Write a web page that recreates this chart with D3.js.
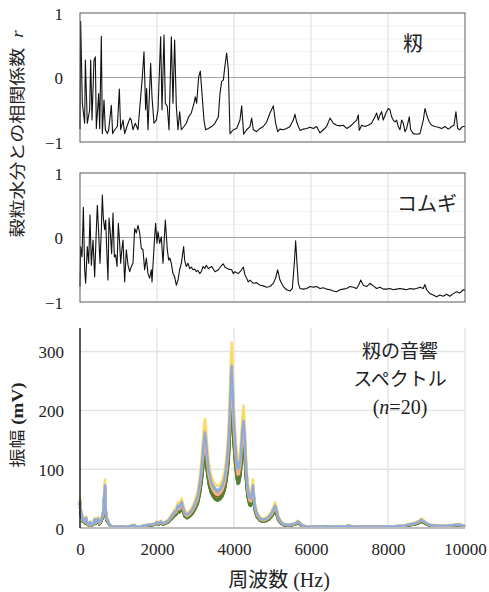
<!DOCTYPE html>
<html>
<head>
<meta charset="utf-8">
<script src="https://cdn.jsdelivr.net/npm/d3@7"></script>
<style>
  html, body { margin: 0; padding: 0; background: #fff; }
  svg { display: block; }
  text, tspan { font-family: "Liberation Serif", "Tinos", "Times New Roman", "DejaVu Serif", "Noto Serif", serif; fill: #222; }
  .jp { font-family: "Noto Sans CJK JP", "Noto Sans CJK SC", sans-serif; }
</style>
</head>
<body>
<svg id="chart" width="489" height="592"></svg>
<script>
const SERIF = "'Liberation Serif', 'Tinos', 'Times New Roman', 'DejaVu Serif', 'Noto Serif', serif";

// Frequency axis ticks (Hz) and value ticks
const freqTicks = [0, 2000, 4000, 6000, 8000, 10000];
const corrTicks = [-1, 0, 1];
const corrMinor = [-0.8, -0.6, -0.4, -0.2, 0.2, 0.4, 0.6, 0.8];
const ampTicks = [0, 100, 200, 300];

// Correlation with grain moisture, paddy rice: [frequency Hz, r]
const riceCorr = [
  [0,-0.80],[17,0.87],[60,-0.40],[121,-0.71],[139,0.27],[190,-0.71],[251,-0.50],[277,0.27],[312,-0.66],
  [364,0.27],[398,0.32],[424,-0.79],[485,-0.25],[511,-0.79],[554,0.64],[580,-0.87],[623,-0.35],
  [658,-0.81],[710,-0.87],[745,-0.81],[814,-0.43],[848,-0.87],[900,-0.81],[970,-0.76],[1022,-0.18],
  [1056,-0.81],[1117,-0.66],[1160,-0.87],[1229,-0.74],[1299,-0.63],[1333,-0.66],[1376,-0.81],
  [1437,-0.71],[1506,-0.81],[1576,-0.30],[1619,0.01],[1662,0.40],[1705,-0.50],[1731,-0.17],
  [1766,-0.81],[1835,0.22],[1870,-0.30],[1922,-0.71],[1982,-0.66],[2026,-0.50],[2095,0.63],
  [2130,-0.50],[2182,0.66],[2216,-0.40],[2268,-0.45],[2312,-0.81],[2372,0.63],[2415,-0.40],
  [2458,0.58],[2502,-0.45],[2545,-0.81],[2588,-0.53],[2632,-0.81],[2701,-0.76],[2762,-0.71],
  [2822,-0.61],[2891,-0.55],[2961,-0.40],[2995,-0.30],[3030,-0.40],[3082,0.01],[3125,0.10],
  [3169,-0.25],[3220,-0.66],[3264,-0.81],[3333,-0.79],[3420,-0.76],[3506,-0.71],[3593,-0.61],
  [3636,-0.25],[3679,-0.06],[3723,-0.04],[3766,0.19],[3809,0.38],[3853,0.12],[3896,-0.87],
  [3982,-0.81],[4069,-0.79],[4155,-0.66],[4199,-0.44],[4251,-0.88],[4329,-0.81],[4415,-0.76],
  [4458,-0.63],[4502,-0.81],[4588,-0.84],[4675,-0.79],[4761,-0.76],[4848,-0.69],[4935,-0.55],
  [5021,-0.44],[5082,-0.71],[5134,-0.84],[5194,-0.80],[5281,-0.81],[5367,-0.79],[5454,-0.76],
  [5540,-0.66],[5584,-0.57],[5627,-0.69],[5714,-0.82],[5800,-0.80],[5887,-0.79],[5974,-0.77],
  [6060,-0.79],[6147,-0.76],[6233,-0.86],[6320,-0.81],[6406,-0.76],[6494,-0.63],[6580,-0.71],
  [6666,-0.74],[6753,-0.75],[6839,-0.74],[6926,-0.79],[7012,-0.76],[7099,-0.71],[7185,-0.66],
  [7228,-0.58],[7254,-0.82],[7315,-0.74],[7401,-0.76],[7488,-0.74],[7574,-0.71],[7661,-0.61],
  [7704,-0.55],[7747,-0.66],[7791,-0.58],[7834,-0.53],[7877,-0.66],[7947,-0.55],[8007,-0.48],
  [8051,-0.50],[8094,-0.61],[8137,-0.66],[8181,-0.69],[8224,-0.66],[8267,-0.76],[8311,-0.81],
  [8354,-0.66],[8397,-0.71],[8441,-0.84],[8484,-0.79],[8553,-0.61],[8588,-0.81],[8657,-0.87],
  [8744,-0.88],[8830,-0.87],[8917,-0.66],[8960,-0.48],[9021,-0.61],[9073,-0.69],[9133,-0.74],
  [9220,-0.76],[9306,-0.77],[9393,-0.79],[9480,-0.76],[9566,-0.80],[9653,-0.76],[9713,-0.74],
  [9765,-0.53],[9809,-0.79],[9869,-0.81],[9913,-0.77],[9956,-0.76],[10000,-0.76]
];

// Correlation with grain moisture, wheat: [frequency Hz, r]
const wheatCorr = [
  [0,-0.76],[17,-0.14],[52,-0.30],[87,0.47],[121,-0.50],[147,-0.71],[190,-0.14],[225,-0.40],
  [260,0.35],[294,-0.43],[338,-0.04],[381,-0.61],[424,0.12],[450,0.50],[485,0.07],[519,-0.40],
  [554,0.12],[580,0.66],[606,0.30],[641,0.12],[667,0.27],[693,-0.17],[727,-0.66],[753,0.30],
  [788,0.07],[822,-0.25],[857,0.38],[892,-0.30],[926,-0.27],[961,-0.45],[996,0.22],[1030,-0.09],
  [1056,-0.40],[1082,-0.22],[1117,-0.04],[1160,-0.69],[1203,-0.19],[1247,-0.43],[1290,-0.53],
  [1333,-0.45],[1376,-0.40],[1420,0.14],[1463,0.07],[1506,0.19],[1550,0.07],[1593,-0.17],
  [1636,-0.19],[1679,-0.50],[1723,-0.32],[1766,-0.56],[1809,-0.63],[1853,-0.50],[1870,-0.69],
  [1939,0.01],[1965,0.22],[2000,-0.09],[2026,0.09],[2069,-0.09],[2112,0.01],[2156,-0.40],
  [2216,0.27],[2268,-0.19],[2303,-0.35],[2337,-0.32],[2372,-0.40],[2415,-0.56],[2458,-0.61],
  [2502,-0.74],[2545,-0.66],[2588,-0.50],[2632,-0.40],[2692,-0.14],[2718,-0.35],[2762,-0.45],
  [2805,-0.40],[2848,-0.48],[2891,-0.46],[2935,-0.50],[2978,-0.49],[3021,-0.53],[3065,-0.51],
  [3108,-0.56],[3151,-0.53],[3195,-0.45],[3238,-0.48],[3281,-0.43],[3333,-0.48],[3420,-0.45],
  [3506,-0.53],[3593,-0.50],[3679,-0.43],[3723,-0.41],[3766,-0.46],[3852,-0.49],[3939,-0.50],
  [3982,-0.56],[4025,-0.53],[4112,-0.56],[4198,-0.50],[4242,-0.46],[4285,-0.58],[4328,-0.63],
  [4371,-0.69],[4415,-0.66],[4501,-0.71],[4588,-0.70],[4675,-0.74],[4761,-0.75],[4848,-0.77],
  [4934,-0.76],[5021,-0.71],[5082,-0.63],[5134,-0.50],[5194,-0.66],[5281,-0.76],[5367,-0.81],
  [5454,-0.83],[5515,-0.79],[5567,-0.40],[5601,-0.05],[5636,-0.40],[5671,-0.71],[5714,-0.79],
  [5800,-0.80],[5887,-0.79],[5974,-0.76],[6060,-0.77],[6147,-0.76],[6233,-0.79],[6320,-0.78],
  [6406,-0.80],[6493,-0.81],[6579,-0.83],[6666,-0.84],[6752,-0.81],[6839,-0.80],[6925,-0.79],
  [7012,-0.76],[7098,-0.77],[7185,-0.79],[7246,-0.73],[7289,-0.66],[7358,-0.74],[7445,-0.76],
  [7531,-0.71],[7618,-0.75],[7704,-0.79],[7791,-0.77],[7877,-0.80],[7964,-0.80],[8050,-0.79],
  [8137,-0.81],[8223,-0.80],[8310,-0.79],[8397,-0.80],[8483,-0.81],[8570,-0.79],[8656,-0.80],
  [8743,-0.79],[8829,-0.77],[8916,-0.79],[8959,-0.73],[9003,-0.81],[9089,-0.87],[9176,-0.89],
  [9262,-0.92],[9349,-0.89],[9435,-0.91],[9522,-0.88],[9608,-0.91],[9695,-0.87],[9782,-0.84],
  [9868,-0.86],[9955,-0.81],[10000,-0.82]
];

// Reference acoustic spectrum of paddy (amplitude mV at frequency Hz)
const specBase = [
  [0,46],[20,30],[45,24],[70,14],[100,16],[130,10],[160,17],[190,8],[220,6],[260,10],[300,5],
  [340,7],[380,15],[410,9],[440,14],[470,16],[500,8],[540,12],[580,20],[610,30],[630,58],[650,72],
  [665,38],[680,18],[710,15],[740,9],[780,5],[830,3],[900,2],[1000,2],[1100,3],[1200,2],[1300,3],
  [1400,5],[1450,3],[1550,2],[1650,4],[1750,5],[1850,6],[1950,7],[2000,10],[2050,8],[2100,11],
  [2150,8],[2200,9],[2300,13],[2350,18],[2400,22],[2450,27],[2500,30],[2540,38],[2580,35],
  [2640,44],[2680,35],[2720,26],[2780,22],[2850,26],[2920,32],[2990,42],[3060,55],[3120,80],
  [3170,112],[3210,145],[3245,162],[3270,150],[3300,125],[3340,100],[3400,80],[3460,70],
  [3520,64],[3580,62],[3640,65],[3700,72],[3760,86],[3810,110],[3860,150],[3900,215],[3925,262],
  [3940,275],[3960,245],[3990,190],[4030,145],[4070,112],[4100,100],[4130,102],[4170,120],
  [4210,160],[4245,182],[4275,160],[4310,110],[4350,72],[4400,52],[4440,50],[4470,62],[4490,72],
  [4510,58],[4550,35],[4600,24],[4680,16],[4760,14],[4840,16],[4920,20],[4990,27],[5040,34],
  [5070,38],[5100,32],[5150,18],[5220,10],[5300,6],[5400,5],[5500,6],[5600,8],[5660,11],[5700,9],
  [5760,5],[5850,3],[6000,2],[6200,2],[6400,3],[6500,2],[6700,2],[6900,3],[7000,4],[7100,2],
  [7300,2],[7600,2],[7900,2],[8200,3],[8400,4],[8550,6],[8700,8],[8800,11],[8870,14],[8920,12],
  [9000,8],[9100,5],[9300,4],[9500,4],[9700,5],[9850,6],[9950,4],[10000,3]
];
const specBasePeak = 275;

// Main-peak amplitude (mV near 3940 Hz) of each of the 20 samples, and their colours
const samplePeak = [262, 245, 255, 232, 268, 222, 250, 238, 242, 215,
                    258, 208, 270, 250, 260, 205, 285, 248, 315, 276];
const sampleColor = ["#4472C4", "#ED7D31", "#A5A5A5", "#FFC000", "#5B9BD5", "#70AD47",
                     "#264478", "#9E480E", "#636363", "#997300", "#255E91", "#43682B",
                     "#698ED0", "#F1975A", "#B7B7B7", "#548235", "#7CAFDD", "#F4B183",
                     "#FFD966", "#8FAADC"];

const svg = d3.select("#chart");
const x = d3.scaleLinear().domain([0, 10000]).range([80, 465]);

function styleTicks(axisG, dy) {
  axisG.attr("font-family", null);
  axisG.select(".domain").remove();
  axisG.selectAll("text")
    .attr("font-size", 17).attr("fill", "#222")
    .style("font-family", SERIF);
  if (dy) axisG.selectAll("text").attr("dy", dy);
}

function corrPanel(data, top, bottom, label, labelX, labelY) {
  const y = d3.scaleLinear().domain([-1, 1]).range([bottom, top]);
  const g = svg.append("g");
  // faint minor grid
  g.selectAll(".minor").data(corrMinor).join("line")
    .attr("x1", x(0)).attr("x2", x(10000))
    .attr("y1", d => y(d)).attr("y2", d => y(d))
    .attr("stroke", "#f1f1f1").attr("stroke-width", 1);
  // vertical grid
  g.selectAll(".vg").data(freqTicks.slice(1, -1)).join("line")
    .attr("x1", d => x(d)).attr("x2", d => x(d))
    .attr("y1", top).attr("y2", bottom)
    .attr("stroke", "#e2e2e2").attr("stroke-width", 1.2);
  // zero line
  g.append("line")
    .attr("x1", x(0)).attr("x2", x(10000))
    .attr("y1", y(0)).attr("y2", y(0))
    .attr("stroke", "#a6a6a6").attr("stroke-width", 1);
  // correlation trace
  g.append("path").datum(data)
    .attr("fill", "none").attr("stroke", "#111").attr("stroke-width", 1.1)
    .attr("stroke-linejoin", "round")
    .attr("d", d3.line().x(d => x(d[0])).y(d => y(d[1])));
  // frame
  g.append("rect")
    .attr("x", x(0)).attr("y", top)
    .attr("width", x(10000) - x(0)).attr("height", bottom - top)
    .attr("fill", "none").attr("stroke", "#5a5a5a").attr("stroke-width", 1);
  // value ticks
  const ax = g.append("g").attr("transform", `translate(${x(0)},0)`)
    .call(d3.axisLeft(y).tickValues(corrTicks).tickSize(0).tickPadding(17).tickFormat(d3.format("d")));
  styleTicks(ax, "0.38em");
  // panel label
  g.append("text").attr("class", "jp")
    .attr("x", labelX).attr("y", labelY)
    .attr("text-anchor", "middle").attr("dominant-baseline", "central")
    .attr("font-size", 20).attr("fill", "#333").text(label);
}

corrPanel(riceCorr, 13, 142, "籾", 413, 42);
corrPanel(wheatCorr, 173, 302, "コムギ", 427, 202);

// Spectrum panel
const yA = d3.scaleLinear().domain([0, 340]).range([528, 328]);
const gs = svg.append("g");
gs.selectAll(".hg").data(ampTicks.slice(1)).join("line")
  .attr("x1", x(0)).attr("x2", x(10000))
  .attr("y1", d => yA(d)).attr("y2", d => yA(d))
  .attr("stroke", "#e3e3e3").attr("stroke-width", 1.4);
gs.selectAll(".vg").data(freqTicks.slice(1)).join("line")
  .attr("x1", d => x(d)).attr("x2", d => x(d))
  .attr("y1", yA(340)).attr("y2", yA(0))
  .attr("stroke", "#e3e3e3").attr("stroke-width", 1.4);

const specLine = d3.line().x(d => x(d[0])).y(d => yA(d[1]));
samplePeak.forEach((pk, i) => {
  const k = pk / specBasePeak;
  gs.append("path")
    .datum(specBase.map(d => [d[0], d[1] * k]))
    .attr("fill", "none").attr("stroke", sampleColor[i])
    .attr("stroke-width", 2.4).attr("stroke-linejoin", "round")
    .attr("d", specLine);
});

// axis lines
gs.append("line").attr("x1", x(0)).attr("x2", x(10000)).attr("y1", yA(0)).attr("y2", yA(0))
  .attr("stroke", "#bdbdbd").attr("stroke-width", 2);
gs.append("line").attr("x1", x(0)).attr("x2", x(0)).attr("y1", yA(340)).attr("y2", yA(0))
  .attr("stroke", "#111").attr("stroke-width", 1.4);

const axY = gs.append("g").attr("transform", `translate(${x(0)},0)`)
  .call(d3.axisLeft(yA).tickValues(ampTicks).tickSize(0).tickPadding(16));
styleTicks(axY, "0.36em");

const axX = gs.append("g").attr("transform", `translate(0,${yA(0)})`)
  .call(d3.axisBottom(x).tickValues(freqTicks).tickSize(0).tickPadding(15).tickFormat(d3.format("d")));
styleTicks(axX, null);

// spectrum panel label, three lines
function labelLine(y, size, build) {
  const t = gs.append("text").attr("x", 400).attr("y", y)
    .attr("text-anchor", "middle").attr("font-size", size).attr("fill", "#333");
  build(t);
}
labelLine(358, 19, t => t.attr("class", "jp").text("籾の音響"));
labelLine(386, 19, t => t.attr("class", "jp").text("スペクトル"));
labelLine(414, 20, t => {
  t.style("font-family", SERIF);
  t.append("tspan").text("(");
  t.append("tspan").attr("font-style", "italic").text("n");
  t.append("tspan").text("=20)");
});

// axis titles
const xt = svg.append("text")
  .attr("transform", "translate(279,587)")
  .attr("text-anchor", "middle").attr("font-size", 20).attr("fill", "#333");
xt.append("tspan").attr("class", "jp").text("周波数");
xt.append("tspan").style("font-family", SERIF).text(" (Hz)");

const yt = svg.append("text")
  .attr("transform", "translate(23,134) rotate(-90) scale(1,0.85)")
  .attr("text-anchor", "middle").attr("font-size", 19).attr("fill", "#333");
yt.append("tspan").attr("class", "jp").text("穀粒水分との相関係数");
yt.append("tspan").style("font-family", SERIF).attr("font-style", "italic").attr("dx", 10).text("r");

const yt2 = svg.append("text")
  .attr("transform", "translate(23,425) rotate(-90) scale(1,0.85)")
  .attr("text-anchor", "middle").attr("font-size", 19).attr("fill", "#333");
yt2.append("tspan").attr("class", "jp").text("振幅");
yt2.append("tspan").style("font-family", SERIF).attr("font-weight", "bold").text(" (mV)");
</script>
</body>
</html>
